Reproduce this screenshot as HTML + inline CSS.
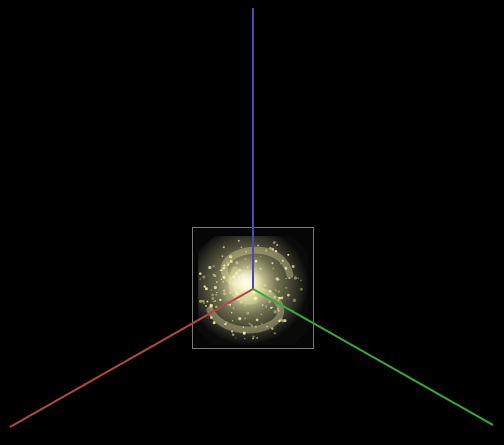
<!DOCTYPE html>
<html><head><meta charset="utf-8"><style>
html,body{margin:0;padding:0;background:#000;width:504px;height:445px;overflow:hidden}
</style></head><body>
<svg width="504" height="445" viewBox="0 0 504 445">
<defs>
<radialGradient id="gal" cx="0.45" cy="0.45" r="0.55">
<stop offset="0" stop-color="#fffbd0"/>
<stop offset="0.2" stop-color="#d8d6a0"/>
<stop offset="0.5" stop-color="#6f6e4e"/>
<stop offset="0.85" stop-color="#2a2a22"/>
<stop offset="1" stop-color="#0a0a0a"/>
</radialGradient>
<radialGradient id="core" cx="0.5" cy="0.5" r="0.5">
<stop offset="0" stop-color="#fffde8" stop-opacity="1"/>
<stop offset="1" stop-color="#fffde8" stop-opacity="0"/>
</radialGradient>
</defs>
<rect width="504" height="445" fill="#000"/>
<g>
<rect x="193" y="228" width="121" height="120" fill="#060606"/>
<path d="M215,236 L292,236 L308,252 L308,330 L294,345 L212,345 L198,330 L198,250 Z" fill="url(#gal)"/>
<g fill="none" stroke="#f2eca8" stroke-opacity="0.35" stroke-width="7" stroke-linecap="round">
<path d="M245,285 C225,285 215,265 235,255 C255,245 285,250 290,275"/>
<path d="M258,290 C280,295 290,315 270,325 C250,335 220,330 210,310"/>
<path d="M235,270 C225,290 240,305 255,300"/>
</g>
<g id="stars" fill="#fff7b0"></g>
<ellipse cx="245" cy="282" rx="18" ry="14" fill="url(#core)"/>
<rect x="192.5" y="227.5" width="121" height="121" fill="none" stroke="#7a7a7a" stroke-width="1"/>
</g>
<line x1="253" y1="289" x2="253" y2="8" stroke="#4a4ab0" stroke-width="2"/>
<line x1="253" y1="289" x2="10" y2="427" stroke="#b04848" stroke-width="2"/>
<line x1="253" y1="289" x2="493" y2="425" stroke="#3aa83a" stroke-width="2"/>
</svg>
<script>
var g=document.getElementById('stars');
var s=7;function r(){s=(s*9301+49297)%233280;return s/233280;}
for(var i=0;i<160;i++){var a=r()*6.28,d=Math.sqrt(r())*52;
var c=document.createElementNS('http://www.w3.org/2000/svg','circle');


c.setAttribute('cx',250+Math.cos(a)*d);c.setAttribute('cy',288+Math.sin(a)*d);
c.setAttribute('r',0.6+r()*1.1);c.setAttribute('opacity',0.3+r()*0.6);g.appendChild(c);}
</script>
</body></html>
